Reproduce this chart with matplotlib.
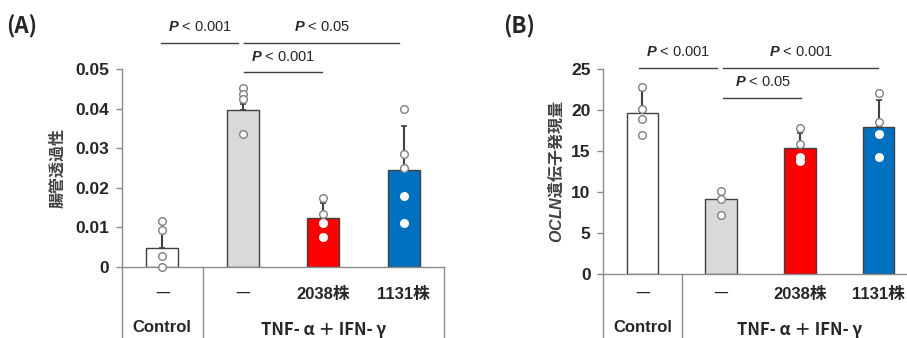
import matplotlib.pyplot as plt
import matplotlib.transforms as mtransforms

plt.rcParams['font.family'] = ['Liberation Sans', 'Noto Sans CJK JP', 'DejaVu Sans']
plt.rcParams['mathtext.fontset'] = 'custom'
plt.rcParams['mathtext.it'] = 'Liberation Sans:italic:bold'
plt.rcParams['mathtext.rm'] = 'Liberation Sans'

# data
groups = ['—', '—', '2038株', '1131株']
colors = ['white', '#d9d9d9', '#ff0000', '#0070c0']

perm_mean = [0.0048, 0.0397, 0.0125, 0.0244]
perm_sd = [0.0046, 0.0014, 0.0036, 0.0111]
perm_pts = [[0.0116, 0.0093, 0.0029, 0.0001],
            [0.0453, 0.0438, 0.0425, 0.0337],
            [0.0175, 0.0134, 0.0110, 0.0076],
            [0.0400, 0.0285, 0.0250, 0.0180, 0.0110]]
perm_ticks = [0, 0.01, 0.02, 0.03, 0.04, 0.05]
perm_ticklabels = ['0', '0.01', '0.02', '0.03', '0.04', '0.05']

ocln_mean = [19.64, 9.13, 15.34, 17.93]
ocln_sd = [2.8, 0.73, 1.83, 3.29]
ocln_pts = [[22.77, 20.16, 18.87, 16.96],
            [10.14, 9.2, 7.18],
            [17.77, 15.83, 14.28, 13.76],
            [22.03, 18.54, 17.12, 14.28]]
ocln_ticks = [0, 5, 10, 15, 20, 25]

# (x1, x2, line y, text, text y, text x)
perm_sig = [(-0.02, 0.94, 0.0565, 'P < 0.001', 0.0605, 0.47),
            (1.02, 2.94, 0.0565, 'P < 0.05', 0.0605, 1.98),
            (1.02, 1.98, 0.0492, 'P < 0.001', 0.0530, 1.50)]
ocln_sig = [(-0.04, 0.95, 25.08, 'P < 0.001', 27.03, 0.46),
            (1.02, 2.99, 25.08, 'P < 0.001', 27.03, 2.01),
            (1.02, 2.01, 21.43, 'P < 0.05', 23.45, 1.53)]

W, H = 907, 338
fig = plt.figure(figsize=(W / 100, H / 100), dpi=100)
axis_gray = '#8c8c8c'


def panel(rect, means, sds, pts, ticks, ticklabels, ylim, sig, ylabel, labx, tag, tagx, right_border):
    ax = fig.add_axes(rect)
    x = range(len(means))
    ax.bar(x, means, width=0.4, color=colors, edgecolor='#404040', linewidth=1, zorder=2)
    ax.errorbar(x, means, yerr=[[0] * len(sds), sds], fmt='none', ecolor='#404040',
                elinewidth=1.5, capsize=2.5, capthick=1.2, zorder=1)
    for i, vals in enumerate(pts):
        for v in vals:
            edge = '#7f7f7f' if (colors[i] in ('white', '#d9d9d9') or v > means[i]) else 'white'
            ax.plot(i, v, 'o', ms=5.5, mfc='white', mec=edge, mew=1, zorder=3, clip_on=False)
    ax.set_xlim(-0.5, 3.5)
    ax.set_ylim(*ylim)
    ax.set_yticks(ticks)
    ax.set_yticklabels(ticklabels, fontsize=12.5, fontweight='bold', color='#262626')
    ax.set_xticks([])
    for s in ['top', 'right']:
        ax.spines[s].set_visible(False)
    for s in ['left', 'bottom']:
        ax.spines[s].set_color(axis_gray)
        ax.spines[s].set_linewidth(1)
    ax.tick_params(axis='y', length=4, width=1, color=axis_gray, pad=5)
    ax.set_ylabel(ylabel, fontsize=11.5, fontweight='bold', color='#404040',
                  family=['Noto Sans CJK JP'])
    ax.yaxis.set_label_coords(labx, 0.5)

    # table below the axis
    tr = mtransforms.blended_transform_factory(ax.transData, fig.transFigure)
    bottom_y = rect[1]
    xs = [-0.5, 0.5] + ([3.5] if right_border else [])
    for xv in xs:
        ax.plot([xv, xv], [bottom_y, 0], color=axis_gray, lw=1, transform=tr, clip_on=False)
    for i, g in enumerate(groups):
        if g == '—':
            ax.text(i, 1 - 292 / H, g, transform=tr, ha='center', va='center', fontsize=12,
                    family=['Noto Sans CJK JP'], color='#262626')
        else:
            ax.text(i, 1 - 295 / H, g, transform=tr, ha='center', va='center', fontsize=12,
                    fontweight='bold', color='#262626')
    ax.text(0, 1 - 328 / H, 'Control', transform=tr, ha='center', va='center', fontsize=12,
            fontweight='bold', color='#262626')
    ax.text(2, 1 - 330 / H, 'TNF- α ＋ IFN- γ', transform=tr, ha='center', va='center', fontsize=12,
            fontweight='bold', family=['Noto Sans CJK JP'], color='#262626')

    for x1, x2, ly, t, ty, tx in sig:
        ax.plot([x1, x2], [ly, ly], color='#404040', lw=1, clip_on=False)
        p, rest = t.split(' ', 1)
        ax.text(tx, ty, r'$\it{P}$' + ' ' + rest, ha='center', va='center',
                fontsize=10.5, color='#262626', clip_on=False)

    fig.text(tagx / W, 1 - 27 / H, tag, ha='left', va='center', fontsize=16, fontweight='bold',
             family=['Noto Sans CJK JP'], color='#262626')
    return ax


axA = panel([122 / W, (H - 267) / H, 322 / W, 198 / H], perm_mean, perm_sd, perm_pts,
            perm_ticks, perm_ticklabels, (0, 0.05), perm_sig, '腸管透過性', -0.175, '(A)', 6, True)
axB = panel([603 / W, (H - 274.3) / H, 315 / W, 205.3 / H], ocln_mean, ocln_sd, ocln_pts,
            ocln_ticks, [str(t) for t in ocln_ticks], (0, 25), ocln_sig,
            r'$\it{OCLN}$遺伝子発現量', -0.12, '(B)', 503, False)

fig.savefig('out.png', dpi=100)
